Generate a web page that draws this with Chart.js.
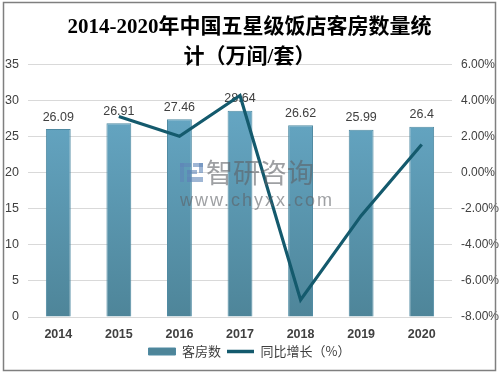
<!DOCTYPE html>
<html>
<head>
<meta charset="utf-8">
<script src="https://cdn.jsdelivr.net/npm/chart.js@4.4.1/dist/chart.umd.min.js"></script>
<style>
html,body{margin:0;padding:0;background:#fff;}
#wrap{width:499px;height:375px;position:relative;}
</style>
</head>
<body>
<div id="wrap"><canvas id="c" width="499" height="375"></canvas></div>
<script>
const titleLines = ['2014-2020年中国五星级饭店客房数量统', '计（万间/套）'];
const categories = ['2014', '2015', '2016', '2017', '2018', '2019', '2020'];
const roomCounts = [26.09, 26.91, 27.46, 28.64, 26.62, 25.99, 26.4];
const yoyGrowth = [null, 3.14, 2.04, 4.30, -7.05, -2.37, 1.58];
const seriesNames = ['客房数', '同比增长（%）'];
const leftAxis = {min: 0, max: 35, step: 5};
const rightAxis = {min: -8, max: 6, step: 2};

const narrow = "'Liberation Sans Narrow', 'Liberation Sans', Arial, sans-serif";
const titleFont = {family: "'Liberation Serif', 'Noto Sans CJK SC', serif", size: 21, weight: 'bold', lineHeight: 1.2};

const framePlugin = {
  id: 'frame',
  beforeDraw(chart) {
    const ctx = chart.ctx;
    ctx.save();
    ctx.fillStyle = '#ffffff';
    ctx.fillRect(0, 0, chart.width, chart.height);
    ctx.restore();
  },
  afterDatasetDraw(chart, args) {
    if (args.index !== 0) return;
    const ctx = chart.ctx;
    const meta = chart.getDatasetMeta(0);
    ctx.save();
    ctx.font = "12.5px " + narrow;
    ctx.fillStyle = '#404040';
    ctx.textAlign = 'center';
    ctx.textBaseline = 'middle';
    meta.data.forEach((bar, i) => {
      ctx.fillText(String(chart.data.datasets[0].data[i]), bar.x, bar.y - 12);
    });
    ctx.restore();
  },
  afterDraw(chart) {
    const ctx = chart.ctx;
    ctx.save();
    // watermark
    ctx.globalAlpha = 0.6;
    ctx.fillStyle = '#5f86b8';
    ctx.fillRect(180, 163, 11, 4);
    ctx.fillRect(180, 163, 4, 19);
    ctx.fillRect(193, 163, 10, 4);
    ctx.fillRect(199, 163, 4, 10);
    ctx.fillRect(187, 170, 10, 4);
    ctx.fillRect(187, 177, 16, 5);
    ctx.fillRect(187, 170, 4, 12);
    ctx.fillStyle = '#5d6166';
    ctx.font = "27px 'Noto Sans CJK SC', sans-serif";
    ctx.textBaseline = 'middle';
    ctx.textAlign = 'left';
    ctx.fillText('智研咨询', 206, 173);
    ctx.font = "18px 'Liberation Sans', Arial, sans-serif";
    ctx.letterSpacing = '2px';
    ctx.fillText('www.chyxx.com', 180, 201);
    ctx.restore();
    ctx.save();
    ctx.strokeStyle = '#7f7f7f';
    ctx.lineWidth = 1.5;
    ctx.strokeRect(3.5, 2.5, 492, 368);
    ctx.restore();
  }
};

function barGradient(context) {
  const chart = context.chart;
  const ca = chart.chartArea;
  if (!ca) return '#5d9bb6';
  const g = chart.ctx.createLinearGradient(0, ca.top, 0, ca.bottom);
  g.addColorStop(0, '#6aadcc');
  g.addColorStop(1, '#4e8599');
  return g;
}

new Chart(document.getElementById('c'), {
  type: 'bar',
  data: {
    labels: categories,
    datasets: [
      {
        type: 'bar',
        label: seriesNames[0],
        data: roomCounts,
        backgroundColor: barGradient,
        borderColor: '#4f8aa2',
        borderWidth: 1,
        barPercentage: 0.41,
        categoryPercentage: 1,
        yAxisID: 'y',
        order: 2
      },
      {
        type: 'line',
        label: seriesNames[1],
        data: yoyGrowth,
        borderColor: '#145a6d',
        backgroundColor: '#145a6d',
        borderWidth: 3.2,
        pointRadius: 0,
        pointHoverRadius: 0,
        tension: 0,
        spanGaps: false,
        yAxisID: 'y1',
        order: 1
      }
    ]
  },
  options: {
    responsive: false,
    animation: false,
    devicePixelRatio: 1,
    layout: {padding: {left: 0, right: 0, top: 0, bottom: 7}},
    plugins: {
      tooltip: {enabled: false},
      title: {
        display: true,
        text: titleLines[0],
        color: '#000000',
        font: titleFont,
        padding: {top: 15, bottom: 0}
      },
      subtitle: {
        display: true,
        text: titleLines[1],
        color: '#000000',
        font: titleFont,
        padding: {top: 5, bottom: -5.5}
      },
      legend: {
        display: true,
        position: 'bottom',
        labels: {
          usePointStyle: true,
          pointStyleWidth: 27,
          boxHeight: 7,
          padding: 6,
          color: '#404040',
          font: {family: "'Noto Sans CJK SC', sans-serif", size: 13},
          sort: (a, b) => a.datasetIndex - b.datasetIndex,
          generateLabels(chart) {
            const items = Chart.defaults.plugins.legend.labels.generateLabels(chart);
            items.forEach(it => {
              if (it.datasetIndex === 0) { it.pointStyle = 'rect'; it.lineWidth = 1; }
              else { it.pointStyle = 'line'; it.lineWidth = 3.5; it.strokeStyle = '#145a6d'; }
            });
            return items;
          }
        }
      }
    },
    scales: {
      x: {
        grid: {display: false, drawTicks: false},
        border: {display: false},
        ticks: {color: '#404040', font: {family: "'Liberation Sans', Arial, sans-serif", size: 12.5, weight: 'bold'}, padding: 10.5},
        afterFit(scale) { scale.height = 22; }
      },
      y: {
        position: 'left',
        min: leftAxis.min,
        max: leftAxis.max,
        ticks: {stepSize: leftAxis.step, color: '#404040', padding: 9, font: {family: narrow, size: 12.5}},
        grid: {color: '#d9d9d9', drawTicks: false, lineWidth: 1},
        border: {display: false},
        afterFit(scale) { scale.width = 28; }
      },
      y1: {
        position: 'right',
        min: rightAxis.min,
        max: rightAxis.max,
        ticks: {stepSize: rightAxis.step, color: '#404040', padding: 9, font: {family: narrow, size: 12},
          callback: v => v.toFixed(2) + '%'},
        grid: {display: false, drawTicks: false},
        border: {display: false},
        afterFit(scale) { scale.width = 47; }
      }
    }
  },
  plugins: [framePlugin]
});
</script>
</body>
</html>
